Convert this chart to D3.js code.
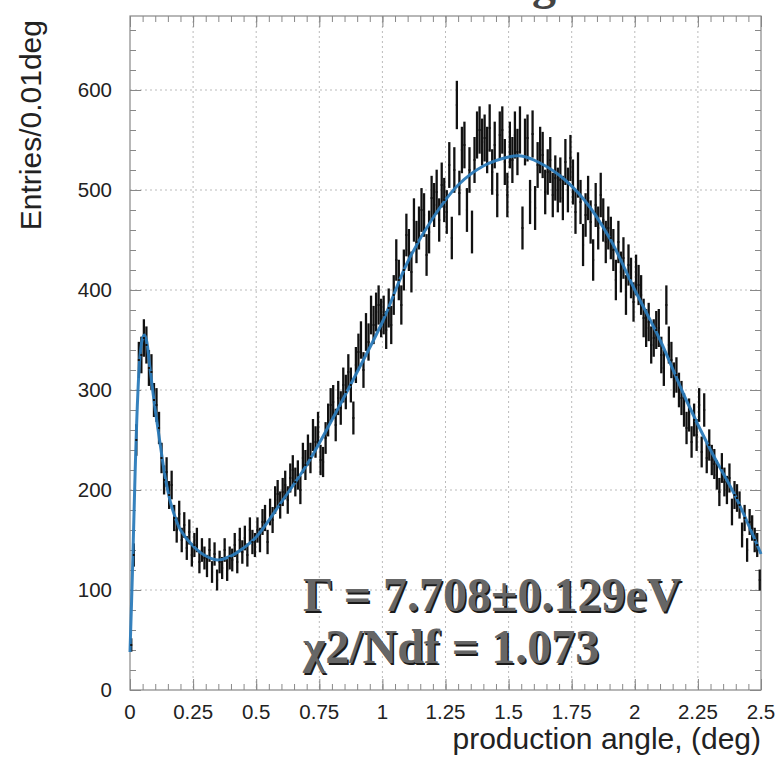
<!DOCTYPE html>
<html>
<head>
<meta charset="utf-8">
<script src="https://cdn.jsdelivr.net/npm/d3@7"></script>
<style>
  html, body { margin: 0; padding: 0; background: #fff; }
  svg { display: block; }
</style>
</head>
<body>
<svg id="chart" width="779" height="757"></svg>
<script>
// ---- data ----
const binWidth = 0.01;
const binStart = 0;
const counts = [
  45, 135, 250, 330, 335, 352, 345, 322, 318, 290,
  285, 262, 232, 210, 218, 195, 205, 172, 160, 176,
  150, 165, 142, 158, 135, 145, 150, 128, 140, 132,
  124, 140, 118, 136, 110, 128, 122, 140, 120, 132,
  130, 145, 128, 150, 138, 152, 135, 160, 148, 145,
  160, 150, 168, 172, 148, 178, 170, 190, 196, 185,
  198, 205, 190, 212, 220, 208, 215, 200, 232, 225,
  240, 232, 255, 248, 262, 230, 228, 252, 270, 285,
  288, 265, 292, 282, 305, 298, 318, 305, 272, 325,
  338, 350, 320, 358, 348, 375, 365, 378, 385, 372,
  375, 360, 382, 365, 395, 430, 410, 385, 420, 455,
  440, 418, 470, 448, 462, 480, 475, 435, 458, 492,
  485, 498, 470, 505, 490, 478, 525, 452, 520, 585,
  497, 540, 545, 480, 520, 458, 530, 555, 560, 548,
  552, 540, 562, 518, 545, 495, 555, 560, 528, 495,
  545, 530, 555, 538, 560, 462, 548, 552, 488, 556,
  482, 525, 540, 535, 498, 518, 530, 495, 512, 500,
  510, 492, 528, 500, 532, 508, 478, 515, 488, 445,
  475, 492, 468, 430, 485, 462, 495, 470, 448, 462,
  452, 440, 410, 448, 418, 432, 395, 425, 412, 388,
  415, 405, 395, 372, 362, 368, 345, 352, 360, 362,
  335, 322, 385, 345, 330, 310, 315, 300, 292, 280,
  262, 275, 248, 270, 255, 285, 238, 280, 232, 245,
  230, 226, 215, 198, 222, 208, 200, 212, 178, 195,
  192, 185, 155, 172, 140, 168, 162, 150, 145, 110
];
const fitX = [0, 0.01, 0.02, 0.03, 0.04, 0.05, 0.057, 0.065, 0.08, 0.1, 0.12, 0.14, 0.16, 0.18, 0.2,
  0.25, 0.3, 0.35, 0.4, 0.45, 0.5, 0.6, 0.7, 0.8, 0.9, 1.0, 1.1, 1.2, 1.3, 1.4, 1.5, 1.55, 1.6,
  1.7, 1.8, 1.9, 2.0, 2.1, 2.2, 2.3, 2.4, 2.5];
const fitY = [38, 120, 215, 290, 335, 352, 355, 350, 320, 280, 245, 212, 188, 172, 160,
  144, 134, 130, 134, 142, 153, 188, 225, 270, 318, 368, 428, 472, 505, 524, 533, 534, 530,
  515, 490, 452, 400, 350, 292, 240, 193, 136];
const xTicks = [0, 0.25, 0.5, 0.75, 1, 1.25, 1.5, 1.75, 2, 2.25, 2.5];
const xTickLabels = ["0", "0.25", "0.5", "0.75", "1", "1.25", "1.5", "1.75", "2", "2.25", "2.5"];
const yTicks = [0, 100, 200, 300, 400, 500, 600];
const xTitle = "production angle, (deg)";
const yTitle = "Entries/0.01deg";
const fitLines = ["Γ = 7.708±0.129eV", "χ2/Ndf = 1.073"];
const titleText = "Fitting";

// ---- layout ----
const L = 130, R = 761, T = 16, B = 690;
const svg = d3.select("#chart");
const x = d3.scaleLinear().domain([0, 2.5]).range([L, R]);
const y = d3.scaleLinear().domain([0, 674]).range([B, T]);

// title (mostly above the visible page, as in the reference)
svg.append("text").attr("x", 556).attr("y", -1).attr("text-anchor", "end")
  .attr("font-family", "Liberation Serif, serif").attr("font-weight", "bold")
  .attr("font-size", 48).attr("fill", "#444").text(titleText);

// grid
const grid = svg.append("g").attr("stroke", "#bbb").attr("stroke-width", 1).attr("stroke-dasharray", "2,3");
grid.selectAll("line.gx").data(xTicks.slice(1, -1)).join("line")
  .attr("x1", d => x(d)).attr("x2", d => x(d)).attr("y1", T).attr("y2", B);
grid.selectAll("line.gy").data(yTicks.slice(1)).join("line")
  .attr("x1", L).attr("x2", R).attr("y1", d => y(d)).attr("y2", d => y(d));

// axes (ROOT style: ticks inside)
const axisColor = "#888";
function styleAxis(g) {
  g.select(".domain").remove();
  g.selectAll(".tick line").attr("stroke", axisColor);
}
const xMinor = d3.range(0, 2.5001, 0.05);
const yMinor = d3.range(0, 674, 20);
svg.append("g").attr("transform", `translate(0,${B})`)
  .call(d3.axisTop(x).tickValues(xMinor).tickSize(6).tickFormat(""))
  .call(styleAxis);
svg.append("g").attr("transform", `translate(0,${B})`)
  .call(d3.axisTop(x).tickValues(xTicks).tickSize(11).tickFormat(""))
  .call(styleAxis);
svg.append("g").attr("transform", `translate(0,${T})`)
  .call(d3.axisBottom(x).tickValues(xMinor).tickSize(6).tickFormat(""))
  .call(styleAxis);
svg.append("g").attr("transform", `translate(0,${T})`)
  .call(d3.axisBottom(x).tickValues(xTicks).tickSize(11).tickFormat(""))
  .call(styleAxis);
svg.append("g").attr("transform", `translate(${L},0)`)
  .call(d3.axisRight(y).tickValues(yMinor).tickSize(6).tickFormat(""))
  .call(styleAxis);
svg.append("g").attr("transform", `translate(${L},0)`)
  .call(d3.axisRight(y).tickValues(yTicks).tickSize(11).tickFormat(""))
  .call(styleAxis);
svg.append("g").attr("transform", `translate(${R},0)`)
  .call(d3.axisLeft(y).tickValues(yMinor).tickSize(6).tickFormat(""))
  .call(styleAxis);
svg.append("g").attr("transform", `translate(${R},0)`)
  .call(d3.axisLeft(y).tickValues(yTicks).tickSize(11).tickFormat(""))
  .call(styleAxis);

// frame
svg.append("rect").attr("x", L).attr("y", T).attr("width", R - L).attr("height", B - T)
  .attr("fill", "none").attr("stroke", axisColor).attr("stroke-width", 1.2);

// tick labels
const labelFont = "Liberation Sans, Arial, sans-serif";
svg.append("g").selectAll("text").data(xTicks).join("text")
  .attr("x", d => x(d)).attr("y", 719).attr("text-anchor", "middle")
  .attr("font-family", labelFont).attr("font-size", 20.5).attr("fill", "#222")
  .text((d, i) => xTickLabels[i]);
svg.append("g").selectAll("text").data(yTicks).join("text")
  .attr("x", 112).attr("y", d => y(d) + 7).attr("text-anchor", "end")
  .attr("font-family", labelFont).attr("font-size", 20.5).attr("fill", "#222")
  .text(d => d);

// axis titles
svg.append("text").attr("x", 761).attr("y", 749).attr("text-anchor", "end")
  .attr("font-family", labelFont).attr("font-size", 30).attr("fill", "#222").text(xTitle);
svg.append("text").attr("transform", "translate(41,20) rotate(-90)").attr("text-anchor", "end")
  .attr("font-family", labelFont).attr("font-size", 30).attr("fill", "#222").text(yTitle);

// data with error bars
const bins = counts.map((c, i) => ({ x: binStart + (i + 0.5) * binWidth, v: c, e: Math.sqrt(c) }));
svg.append("g").attr("stroke", "#111").attr("stroke-width", 2.3)
  .selectAll("line").data(bins).join("line")
  .attr("x1", d => x(d.x)).attr("x2", d => x(d.x))
  .attr("y1", d => y(d.v - d.e)).attr("y2", d => y(d.v + d.e));

// fit curve
const fitPts = fitX.map((v, i) => [v, fitY[i]]);
svg.append("path").datum(fitPts)
  .attr("d", d3.line().x(d => x(d[0])).y(d => y(d[1])).curve(d3.curveCatmullRom.alpha(0.5)))
  .attr("fill", "none").attr("stroke", "#2b7bba").attr("stroke-width", 3).attr("opacity", 0.95);

// black centre markers over the curve
svg.append("g").attr("fill", "#111")
  .selectAll("rect").data(bins).join("rect")
  .attr("x", d => x(d.x) - 1).attr("y", d => y(d.v) - 1).attr("width", 2).attr("height", 2);

// fit annotation with shadow
const ann = svg.append("g").attr("font-family", "Liberation Serif, 'Times New Roman', serif")
  .attr("font-weight", "bold").attr("font-size", 48);
fitLines.forEach((t, i) => {
  ann.append("text").attr("x", 304.5).attr("y", 612.5 + i * 52).attr("fill", "#1a1a1a").text(t);
  ann.append("text").attr("x", 303).attr("y", 611 + i * 52).attr("fill", "#666").text(t);
});
</script>
</body>
</html>
